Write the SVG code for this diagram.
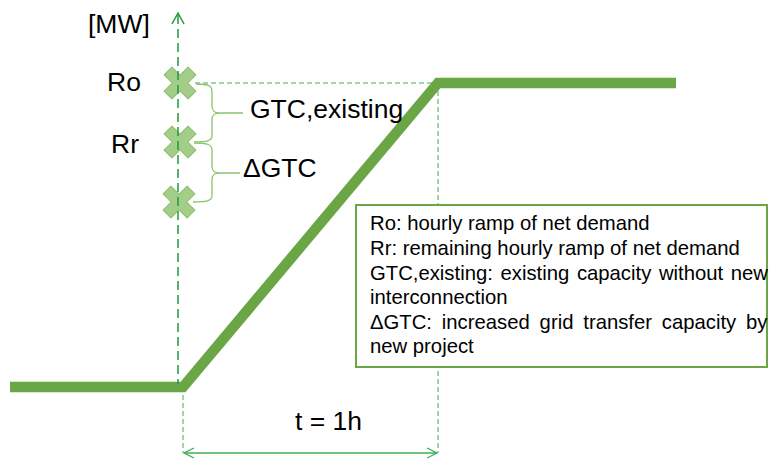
<svg xmlns="http://www.w3.org/2000/svg" width="769" height="462" viewBox="0 0 769 462">
<style>
text{font-family:"Liberation Sans",Arial,sans-serif;fill:#000}
.lbl{font-size:26.5px}
.leg{font-size:20.3px}
.axis{stroke:#1f9a3e;stroke-width:1.5;fill:none;stroke-dasharray:9 5}
.guide{stroke:#3fae55;stroke-width:1;fill:none;stroke-dasharray:5 3}
.brace{stroke:#8cc46c;stroke-width:1.3;fill:none}
.cross{fill:#a3cd88;stroke:#8cbf6c;stroke-width:1;stroke-linejoin:round}
</style>
<defs>
<path id="x" d="M-5.5,-17 L5.5,-17 L5.5,-5.5 L17,-5.5 L17,5.5 L5.5,5.5 L5.5,17 L-5.5,17 L-5.5,5.5 L-17,5.5 L-17,-5.5 L-5.5,-5.5 Z" transform="rotate(45)"/>
<marker id="oa" markerWidth="12" markerHeight="12" refX="11" refY="6" orient="auto-start-reverse" markerUnits="userSpaceOnUse">
<path d="M1,1 L11,6 L1,11" fill="none" stroke="#3fae55" stroke-width="1.3"/>
</marker>
</defs>
<g id="guides">
<line class="guide" x1="195" y1="83" x2="438" y2="83"/>
<line class="guide" x1="438" y1="83" x2="438" y2="453"/>
<line class="guide" x1="183" y1="387" x2="183" y2="453"/>
</g>
<g id="ramp">
<polyline points="10,387 183,387 438,83 676,83" fill="none" stroke="#6aa646" stroke-width="10.5" stroke-linejoin="miter"/>
</g>
<g id="crosses">
<use href="#x" class="cross" x="180" y="83"/>
<use href="#x" class="cross" x="180" y="142"/>
<use href="#x" class="cross" x="179" y="202"/>
</g>
<g id="y-axis">
<line class="axis" x1="178" y1="15" x2="178" y2="384"/>
<path d="M172,24 L178,13 L184,24" fill="none" stroke="#1f9a3e" stroke-width="1.5"/>
<text class="lbl" x="88" y="33">[MW]</text>
<text class="lbl" x="107" y="91">Ro</text>
<text class="lbl" x="111" y="153">Rr</text>
</g>
<g id="braces">
<path class="brace" d="M196,84 C210,84 212,86 212,92 L212,106 C212,111 214,113 220,113 L243,113 M220,113 C214,113 212,115 212,120 L212,136 C212,141 206,142 194,142"/>
<path class="brace" d="M194,143 C206,143 212,144 212,150 L212,166 C212,171 214,173 220,173 L240,173 M220,173 C214,173 212,175 212,180 L212,196 C212,201 206,202 193,202"/>
<text class="lbl" x="250" y="118">GTC,existing</text>
<text class="lbl" x="243" y="177">ΔGTC</text>
</g>
<g id="legend">
<rect x="356" y="205" width="411" height="162" fill="#fff" stroke="#6aa646" stroke-width="2"/>
<text class="leg" x="370" y="230">Ro: hourly ramp of net demand</text>
<text class="leg" x="370" y="255">Rr: remaining hourly ramp of net demand</text>
<text class="leg" x="370" y="280" word-spacing="2">GTC,existing: existing capacity without new</text>
<text class="leg" x="370" y="304">interconnection</text>
<text class="leg" x="370" y="329" word-spacing="4.2">ΔGTC: increased grid transfer capacity by</text>
<text class="leg" x="370" y="353">new project</text>
</g>
<g id="duration">
<line x1="184" y1="453" x2="437" y2="453" stroke="#3fae55" stroke-width="1.3" marker-start="url(#oa)" marker-end="url(#oa)"/>
<text class="lbl" x="295" y="430">t = 1h</text>
</g>
</svg>
